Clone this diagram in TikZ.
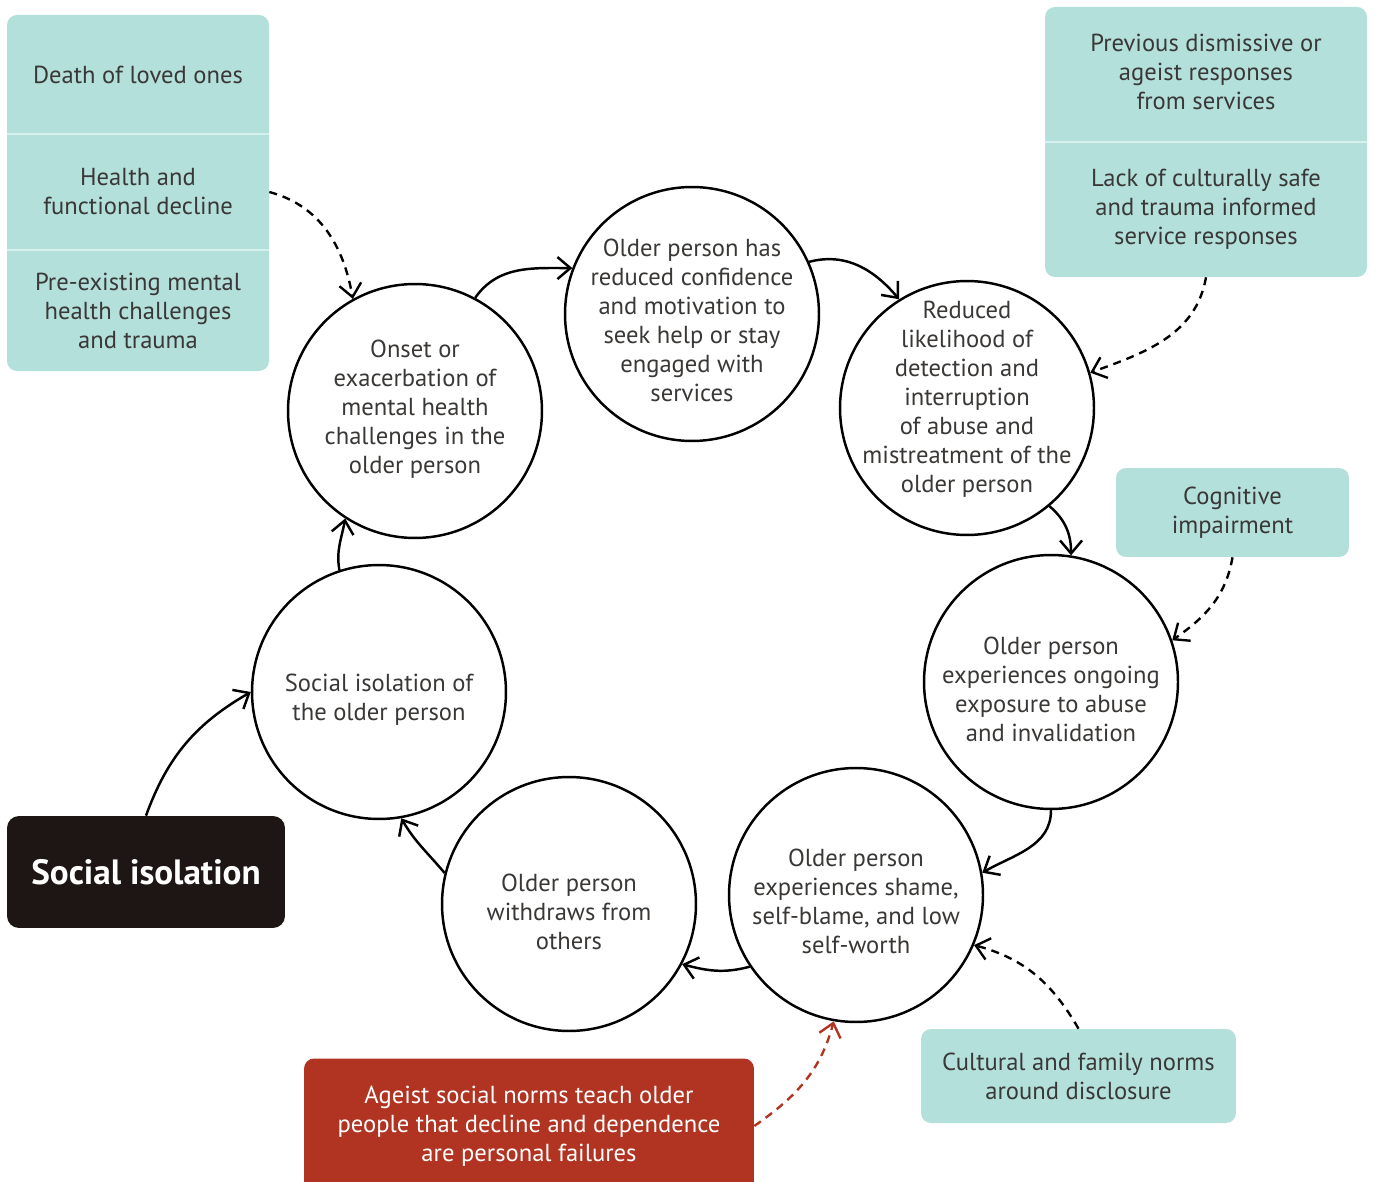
\documentclass[tikz,border=0pt]{standalone}
\usepackage{fontspec}
\setmainfont{PT Sans}
\usetikzlibrary{arrows.meta}
\definecolor{Mint}{HTML}{B3E0DB}
\definecolor{MintLine}{HTML}{D6F0ED}
\definecolor{Rust}{HTML}{B13422}
\definecolor{Night}{HTML}{1D1615}
\definecolor{Ink}{HTML}{3A3836}

\begin{document}
\begin{tikzpicture}[x=0.02cm,y=0.02cm,
    ring/.style={circle,draw=black,line width=1.4pt,minimum size=5.08cm,inner sep=0pt},
    ringtxt/.style={align=center,text=Ink,font=\fontsize{14}{16.5}\selectfont},
    section/.style={align=center,text=Ink,font=\fontsize{14}{16.5}\selectfont,
                    inner sep=0pt},
    tag/.style={align=center,text=Ink,font=\fontsize{14}{16.5}\selectfont,
                fill=Mint,rounded corners=0.2cm},
    flow/.style={-{Straight Barb[length=2.6mm,width=4.4mm]},line width=1.4pt},
    cause/.style={-{Straight Barb[length=2.6mm,width=4.4mm]},line width=1.35pt,
                  dash pattern=on 0.16cm off 0.12cm}]
  \useasboundingbox (0,0) rectangle (1375,-1182);
  \fill[white] (0,0) rectangle (1375,-1182);

  % left stack of contributing factors
  \fill[Mint,rounded corners=0.2cm] (7,-15) rectangle (269,-371);
  \draw[MintLine,line width=1pt] (7,-134) -- (269,-134);
  \draw[MintLine,line width=1pt] (7,-250) -- (269,-250);
  \node[section,minimum width=5.24cm,minimum height=2.38cm] (loss) at (138,-74.5)
        {Death of loved ones};
  \node[section,minimum width=5.24cm,minimum height=2.32cm] (decline) at (138,-192)
        {Health and\\functional decline};
  \node[section,minimum width=5.24cm,minimum height=2.42cm] (preexist) at (138,-310.5)
        {Pre-existing mental\\health challenges\\and trauma};

  % right stack of service factors
  \fill[Mint,rounded corners=0.2cm] (1045,-7) rectangle (1367,-277);
  \draw[MintLine,line width=1pt] (1045,-142) -- (1367,-142);
  \node[section,minimum width=6.44cm,minimum height=2.7cm] (dismiss) at (1206,-72)
        {Previous dismissive or\\ageist responses\\from services};
  \node[section,minimum width=6.44cm,minimum height=2.7cm] (unsafe) at (1206,-209.5)
        {Lack of culturally safe\\and trauma informed\\service responses};

  \node[tag,minimum width=4.66cm,minimum height=1.78cm] (cognit) at (1232.5,-512.5)
        {Cognitive\\impairment};
  \node[tag,minimum width=6.3cm,minimum height=1.88cm] (norms) at (1078.5,-1076)
        {Cultural and family norms\\around disclosure};
  \node[tag,fill=Rust,text=white,minimum width=9cm,minimum height=2.7cm] (ageism)
        at (529,-1126)
        {Ageist social norms teach older\\people that decline and dependence\\are personal failures};
  \node[fill=Night,text=white,rounded corners=0.24cm,minimum width=5.56cm,
        minimum height=2.24cm,font=\fontsize{20}{24}\selectfont\bfseries] (isol)
        at (146,-872) {Social isolation};

  % the cycle
  \foreach \n/\cx/\cy/\dy/\txt in {
      1/415/411/-2/{Onset or\\exacerbation of\\mental health\\challenges in the\\older person},
      2/692/314/6/{Older person has\\reduced confidence\\and motivation to\\seek help or stay\\engaged with\\services},
      3/967/408/-9/{Reduced\\likelihood of\\detection and\\interruption\\of abuse and\\mistreatment of the\\older person},
      4/1051/682/7/{Older person\\experiences ongoing\\exposure to abuse\\and invalidation},
      5/856/895/6/{Older person\\experiences shame,\\self-blame, and low\\self-worth},
      6/569/904/8/{Older person\\withdraws from\\others},
      7/379/692/8/{Social isolation of\\the older person}} {
    \node[ring] (c\n) at (\cx,-\cy) {};
    \node[ringtxt] (t\n) at (\cx,-\cy-\dy) {\txt};
  }

  \draw[flow] (c1.62) to[out=55,in=180] (c2.159);
  \draw[flow] (c2.24) to[out=15,in=130] (c3.122);
  \draw[flow] (c3.-50) to[out=-40,in=90] (c4.81);
  \draw[flow] (c4.-90) to[out=-90,in=30] (c5.10);
  \draw[flow] (c5.-146) to[out=-165,in=-15] (c6.-28);
  \draw[flow] (c6.166) to[out=130,in=-60] (c7.-80);
  \draw[flow] (c7.108) to[out=100,in=-100] (c1.-123);
  \draw[flow] (isol.north) to[out=70,in=-150] (c7.180);

  % contributing influences
  \draw[cause] (decline.east) to[out=-15,in=100] (c1.119);
  \draw[cause] (unsafe.south) to[out=-100,in=20] (c3.16);
  \draw[cause] (cognit.south) to[out=-100,in=35] (c4.19);
  \draw[cause] (norms.north) to[out=120,in=-15] (c5.-23);
  \draw[cause,Rust] (ageism.east) to[out=35,in=-105] (c5.-100);
\end{tikzpicture}
\end{document}
